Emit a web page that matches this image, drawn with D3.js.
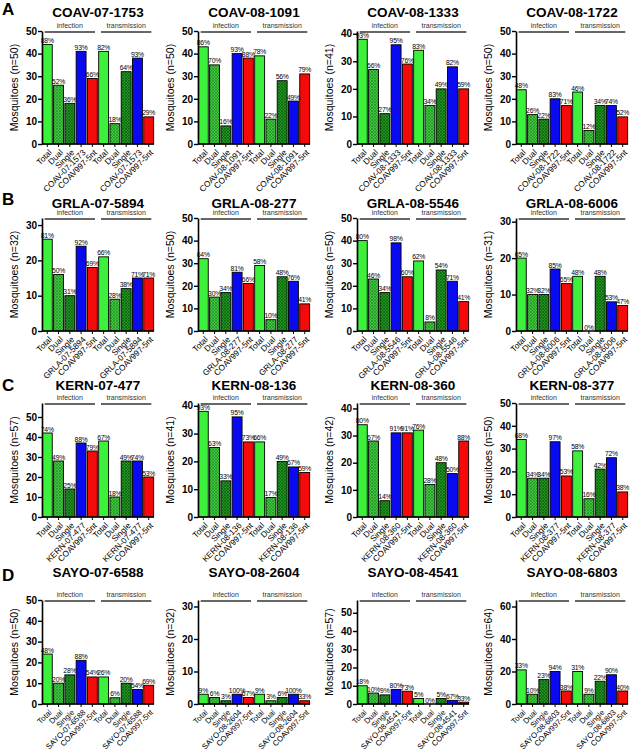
<!DOCTYPE html>
<html><head><meta charset="utf-8">
<script src="https://cdn.jsdelivr.net/npm/d3@7"></script>
<style>body{margin:0;background:#fff}svg{display:block}</style>
</head><body>
<svg id="chart" width="633" height="750"></svg>
<script>
// ---------- data ----------
const rowLetters = ["A", "B", "C", "D"];
const strains = [
  "COAV-07-1753", "COAV-08-1091", "COAV-08-1333", "COAV-08-1722",
  "GRLA-07-5894", "GRLA-08-277", "GRLA-08-5546", "GRLA-08-6006",
  "KERN-07-477", "KERN-08-136", "KERN-08-360", "KERN-08-377",
  "SAYO-07-6588", "SAYO-08-2604", "SAYO-08-4541", "SAYO-08-6803"
];
const strainAxisLabels = [
  "COAV-07-1573", "COAV-08-1091", "COAV-08-1333", "COAV-08-1722",
  "GRLA-07-5894", "GRLA-08-277", "GRLA-08-5546", "GRLA-08-6006",
  "KERN-07-477", "KERN-08-136", "KERN-08-360", "KERN-08-377",
  "SAYO-07-6588", "SAYO-08-2604", "SAYO-08-4541", "SAYO-08-6803"
];
const sampleSizes = [50, 50, 41, 50, 32, 50, 50, 31, 57, 41, 42, 50, 50, 32, 57, 64];
const groups = ["infection", "transmission"];
const categories = ["Total", "Dual", "Single", "STRAIN", "COAV997-5nt"];

const infectionCounts = [
  [44, 26, 18, 41, 29], [43, 35, 8, 40, 38], [38, 27, 11, 36, 29], [24, 13, 11, 20, 17],
  [26, 16, 10, 24, 18], [32, 15, 17, 26, 21], [40, 23, 17, 39, 24], [20, 10, 10, 17, 13],
  [42, 28, 14, 37, 33], [38, 25, 13, 36, 27], [34, 28, 6, 31, 31], [34, 17, 17, 33, 18],
  [24, 10, 14, 21, 13], [3, 2, 1, 3, 2], [10, 6, 5, 8, 7], [21, 6, 15, 20, 8]
];
const infectionPercents = [
  ["88%", "52%", "36%", "93%", "66%"], ["86%", "70%", "16%", "93%", "88%"],
  ["93%", "66%", "27%", "95%", "76%"], ["48%", "26%", "22%", "83%", "71%"],
  ["81%", "50%", "31%", "92%", "69%"], ["64%", "30%", "34%", "81%", "66%"],
  ["80%", "46%", "34%", "98%", "60%"], ["65%", "32%", "32%", "85%", "65%"],
  ["74%", "49%", "25%", "88%", "79%"], ["93%", "63%", "33%", "95%", "73%"],
  ["80%", "67%", "14%", "91%", "91%"], ["68%", "34%", "34%", "97%", "53%"],
  ["48%", "20%", "28%", "88%", "54%"], ["9%", "6%", "3%", "100%", "67%"],
  ["18%", "10%", "9%", "80%", "73%"], ["33%", "10%", "23%", "94%", "38%"]
];
const transmissionCounts = [
  [41, 9, 32, 38, 12], [39, 11, 28, 19, 31], [34, 14, 20, 28, 20], [23, 6, 17, 17, 12],
  [21, 9, 12, 15, 15], [29, 5, 24, 22, 12], [31, 4, 27, 22, 13], [15, 0, 15, 8, 7],
  [38, 10, 28, 28, 20], [27, 7, 20, 18, 16], [32, 12, 20, 16, 28], [29, 8, 21, 26, 11],
  [13, 3, 10, 7, 9], [3, 1, 2, 3, 1], [3, 0, 3, 2, 1], [20, 6, 14, 18, 8]
];
const transmissionPercents = [
  ["82%", "18%", "64%", "93%", "29%"], ["78%", "22%", "56%", "49%", "79%"],
  ["83%", "34%", "49%", "82%", "59%"], ["46%", "12%", "34%", "74%", "52%"],
  ["66%", "28%", "38%", "71%", "71%"], ["58%", "10%", "48%", "76%", "41%"],
  ["62%", "8%", "54%", "71%", "41%"], ["48%", "0%", "48%", "53%", "47%"],
  ["67%", "18%", "49%", "74%", "53%"], ["66%", "17%", "49%", "67%", "59%"],
  ["76%", "28%", "48%", "50%", "88%"], ["58%", "16%", "42%", "72%", "38%"],
  ["26%", "6%", "20%", "54%", "69%"], ["9%", "3%", "6%", "100%", "33%"],
  ["5%", "0%", "5%", "67%", "33%"], ["31%", "9%", "22%", "90%", "40%"]
];

// ---------- layout ----------
const FONT = "'Liberation Sans', Arial, sans-serif";
const axisXs = [42, 198, 357, 516];
const plotW = 112;
const plotTops = [31, 218, 403, 600];
const plotBottoms = [144, 331, 517, 704];
const titleYs = [17, 208, 390, 577];
const letterYs = [15, 205, 391, 581];
const xLabelSizes = [8.3, 8.3, 8.3, 7.8];

const svg = d3.select("#chart");
const defs = svg.append("defs");
function hatch(id, base, line) {
  const p = defs.append("pattern").attr("id", id).attr("patternUnits", "userSpaceOnUse")
    .attr("width", 3).attr("height", 3);
  p.append("rect").attr("width", 3).attr("height", 3).attr("fill", base);
  p.append("path").attr("d", "M0,0L3,3M3,0L0,3").attr("stroke", line).attr("stroke-width", 0.7);
}
hatch("hDual", "#3fc83f", "#238f23");
hatch("hSingle", "#1f951f", "#0e5e0e");
const fills = ["#3cf03c", "url(#hDual)", "url(#hSingle)", "#0a0af0", "#f50a0a"];

rowLetters.forEach((L, r) => {
  svg.append("text").attr("x", 2).attr("y", letterYs[r]).text(L)
    .attr("font-family", FONT).attr("font-weight", "bold").attr("font-size", 17);
});

strains.forEach((name, i) => {
  const r = Math.floor(i / 4), c = i % 4;
  const x0 = axisXs[c], top = plotTops[r], bot = plotBottoms[r];
  const n = sampleSizes[i];
  const g = svg.append("g");
  const keys = [];
  groups.forEach((gr, gi) => categories.forEach((cat, ci) => keys.push(gi * 5 + ci)));
  const values = infectionCounts[i].concat(transmissionCounts[i]);
  const pcts = infectionPercents[i].concat(transmissionPercents[i]);
  const labels = keys.map(k => {
    const cat = categories[k % 5];
    return cat === "STRAIN" ? strainAxisLabels[i] : cat;
  });
  const x = d3.scaleBand().domain(keys).range([x0, x0 + plotW]).paddingInner(0.12).paddingOuter(0.03);
  const y = d3.scaleLinear().domain([0, n]).range([bot, top]);

  g.append("text").attr("x", x0 + plotW / 2).attr("y", titleYs[r]).attr("text-anchor", "middle")
    .attr("font-family", FONT).attr("font-weight", "bold").attr("font-size", 13.5).text(name);

  groups.forEach((gr, gi) => {
    const a = x(gi * 5) - x.step() * x.paddingInner() / 2 + 3;
    const b = x(gi * 5 + 4) + x.bandwidth() + x.step() * x.paddingInner() / 2 - 3;
    const ly = top + 1;
    g.append("line").attr("x1", a).attr("x2", b).attr("y1", ly).attr("y2", ly)
      .attr("stroke", "#333").attr("stroke-width", 1.6);
    g.append("text").attr("x", (a + b) / 2).attr("y", ly - 4).attr("text-anchor", "middle")
      .attr("font-family", FONT).attr("font-size", 7).attr("fill", "#333").text(gr);
  });

  g.selectAll("rect.bar").data(keys).join("rect").attr("class", "bar")
    .attr("x", k => x(k)).attr("width", x.bandwidth())
    .attr("y", k => y(values[k])).attr("height", k => bot - y(values[k]))
    .attr("fill", k => fills[k % 5]).attr("stroke", "#000").attr("stroke-width", 0.9);

  g.selectAll("text.pct").data(keys).join("text").attr("class", "pct")
    .attr("x", k => x(k) + x.bandwidth() / 2).attr("y", k => y(values[k]) - 1.5)
    .attr("text-anchor", "middle").attr("font-family", FONT).attr("font-size", 6.8)
    .attr("letter-spacing", -0.2)
    .text(k => pcts[k]);

  const step = n > 60 ? 20 : 10;
  const yAxis = d3.axisLeft(y).tickValues(d3.range(0, n + 0.001, step)).tickSize(4).tickSizeOuter(0);
  const ya = g.append("g").attr("transform", `translate(${x0},0)`).call(yAxis);
  ya.select(".domain").attr("stroke-width", 1.6);
  ya.selectAll(".tick line").attr("stroke-width", 1.4);
  ya.selectAll(".tick text").attr("font-family", FONT).attr("font-weight", "bold").attr("font-size", 10).attr("x", -5);

  const xAxis = d3.axisBottom(x).tickSize(3).tickSizeOuter(0).tickFormat(k => labels[k]);
  const xa = g.append("g").attr("transform", `translate(0,${bot})`).call(xAxis);
  xa.select(".domain").attr("stroke-width", 1.6).attr("d", `M${x0},0H${x0 + plotW}`);
  xa.selectAll(".tick line").attr("stroke-width", 1);
  xa.selectAll(".tick text").attr("font-family", FONT).attr("font-size", xLabelSizes[r])
    .attr("text-anchor", "end").attr("y", 0).attr("dy", "0.35em")
    .attr("transform", "translate(3,7) rotate(-45)");

  g.append("text").attr("transform", `translate(${x0 - 24},${(top + bot) / 2}) rotate(-90)`)
    .attr("text-anchor", "middle").attr("font-family", FONT).attr("font-size", 10.5)
    .text(`Mosquitoes (n=${n})`);
});
</script>
</body></html>
